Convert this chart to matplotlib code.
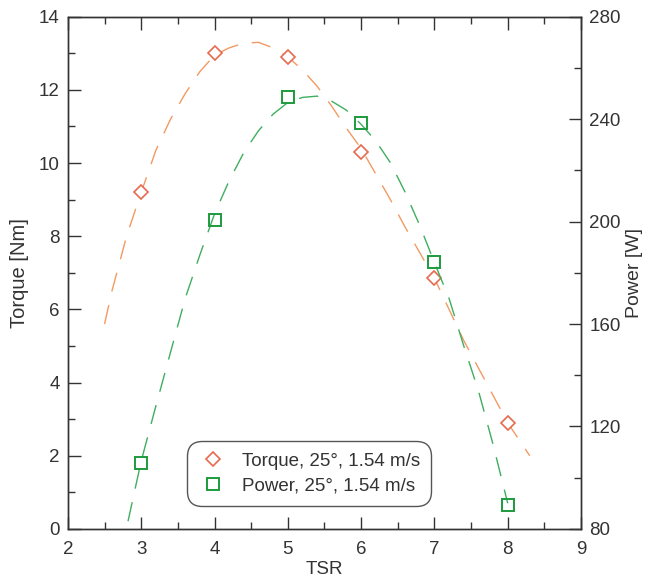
import numpy as np
import matplotlib.pyplot as plt
from matplotlib.ticker import MultipleLocator

plt.rcParams['font.family'] = ['Liberation Sans', 'DejaVu Sans']

# measured points
tsr = [3, 4, 5, 6, 7, 8]
torque = [9.2, 13.0, 12.9, 10.3, 6.85, 2.9]
power = [105.7, 200.7, 248.6, 238.6, 184.3, 89.3]

# fit curves
tsr_fit_t = [2.5, 2.6, 2.8, 3.0, 3.2, 3.4, 3.6, 3.8, 4.0, 4.2, 4.4, 4.6, 4.8, 5.0, 5.2,
             5.4, 5.6, 5.8, 6.0, 6.2, 6.4, 6.6, 6.8, 7.0, 7.2, 7.4, 7.6, 7.8, 8.0, 8.3]
torque_fit = [5.6, 6.5, 8.0, 9.2, 10.35, 11.2, 11.9, 12.5, 12.95, 13.15, 13.28, 13.3, 13.15,
              12.9, 12.55, 12.1, 11.55, 10.95, 10.4, 9.7, 9.0, 8.25, 7.55, 6.85, 6.0, 5.15,
              4.4, 3.65, 2.9, 2.0]
tsr_fit_p = [2.82, 2.9, 3.0, 3.2, 3.4, 3.6, 3.8, 4.0, 4.2, 4.4, 4.6, 4.8, 5.0, 5.2, 5.4,
             5.6, 5.8, 6.0, 6.2, 6.4, 6.6, 6.8, 7.0, 7.2, 7.4, 7.6, 7.8, 8.0]
power_fit = [83, 93.5, 106.5, 128, 149, 170, 187, 203, 216, 227, 235.5, 242, 246.5, 248.5,
             249, 247, 243.5, 238, 231.5, 223, 211.5, 198.5, 184, 170, 151.5, 134, 113, 90]

c_t_line = '#f29a62'
c_t_mark = '#e66a4e'
c_p_line = '#3fae5f'
c_p_mark = '#1e9a3c'
txt = '#333333'
fs = 13.5

fig = plt.figure(figsize=(6.47, 5.78), dpi=100)
ax = fig.add_subplot(111)
fig.subplots_adjust(left=0.105, right=0.898, top=0.971, bottom=0.085)
ax2 = ax.twinx()

ax.plot(tsr_fit_t, torque_fit, color=c_t_line, lw=1.0, dashes=(14, 10))
h1, = ax.plot(tsr, torque, linestyle='none', marker='D', ms=7, mfc='white',
              mec=c_t_mark, mew=1.2, label='Torque, 25°, 1.54 m/s')

ax2.plot(tsr_fit_p, power_fit, color=c_p_line, lw=1.0, dashes=(14, 10))
h2, = ax2.plot(tsr, power, linestyle='none', marker='s', ms=9, mfc='none',
               mec=c_p_mark, mew=1.4, label='Power, 25°, 1.54 m/s')

ax.set_xlim(2, 9)
ax.set_ylim(0, 14)
ax2.set_ylim(80, 280)
ax.xaxis.set_major_locator(MultipleLocator(1))
ax.xaxis.set_minor_locator(MultipleLocator(0.5))
ax.yaxis.set_major_locator(MultipleLocator(2))
ax.yaxis.set_minor_locator(MultipleLocator(1))
ax2.yaxis.set_major_locator(MultipleLocator(40))
ax2.yaxis.set_minor_locator(MultipleLocator(20))

for a in (ax, ax2):
    a.tick_params(which='major', direction='in', length=9, width=1, colors=txt,
                  labelsize=fs)
    a.tick_params(which='minor', direction='in', length=5, width=1, colors=txt)
    for s in a.spines.values():
        s.set_color(txt)
        s.set_linewidth(1)
ax.tick_params(which='both', top=True)
ax.tick_params(axis='x', pad=9)
ax.tick_params(axis='y', pad=6)
ax2.tick_params(axis='y', pad=6)

ax.set_xlabel('TSR', fontsize=fs, color=txt, labelpad=2)
ax.set_ylabel('Torque [Nm]', fontsize=14.5, color=txt, labelpad=7)
ax2.set_ylabel('Power [W]', fontsize=14, color=txt, labelpad=4)

leg = ax2.legend(handles=[h1, h2], loc='lower center', bbox_to_anchor=(0.47, 0.027),
                 fontsize=fs, frameon=True, fancybox=True, edgecolor='#555555',
                 framealpha=1, handletextpad=0.7, borderpad=0.6, labelspacing=0.4,
                 handlelength=1.6)
leg.get_frame().set_boxstyle('round', pad=0, rounding_size=0.8)
for t in leg.get_texts():
    t.set_color(txt)

fig.savefig('out.png', dpi=100)
